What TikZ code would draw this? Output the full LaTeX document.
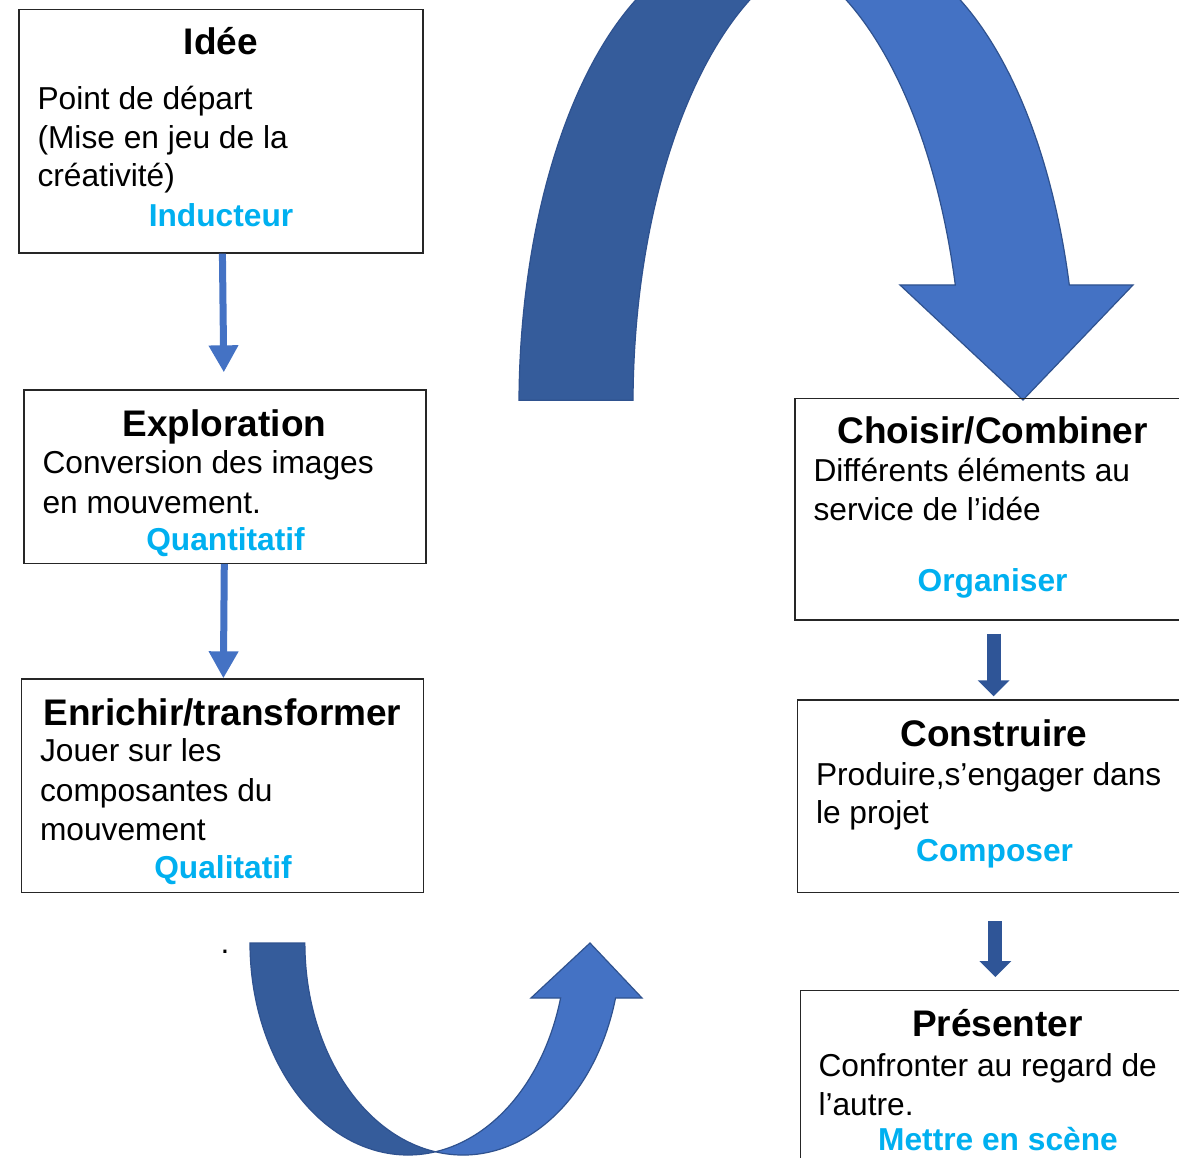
\documentclass[tikz,border=0pt]{standalone}
\usepackage{fontspec}
\setmainfont{Liberation Sans}
\usepackage{tikz}
\usetikzlibrary{arrows.meta}
\definecolor{bleu}{HTML}{4472C4}
\definecolor{bleufonce}{HTML}{2F5597}
\definecolor{ombre}{HTML}{355C9B}
\definecolor{bordure}{HTML}{2F528F}
\definecolor{ciel}{HTML}{00B0F0}
\begin{document}
\begin{tikzpicture}[x=1pt, y=-1pt,
  boite/.style={draw=black!85, line width=1.3pt, rectangle, inner sep=0pt},
  titre/.style={anchor=base, font=\fontsize{37}{44}\selectfont\bfseries},
  corps/.style={anchor=base west, font=\fontsize{31.7}{38}\selectfont},
  etiq/.style={anchor=base, text=ciel, font=\fontsize{31.7}{38}\selectfont\bfseries},
  fleche/.style={line width=7pt, draw=bleu, -{Triangle[width=28pt,length=27pt]}},
  bloc/.style={line width=14pt, draw=bleufonce, -{Triangle[width=31pt,length=16pt]}},
  contour/.style={draw=bordure, line width=1.2pt, line join=miter}]
\clip (0,0) rectangle (1179,1158);
\fill[white] (0,0) rectangle (1179,1158);
% grande fleche du haut
\fill[ombre, contour] (519,400.2) arc[start angle=180.6, end angle=284.88, x radius=222, y radius=460]
  arc[start angle=255.12, end angle=180.6, x radius=222, y radius=460] -- cycle;
\fill[bleu, contour] (798,-39.6) arc[start angle=255.12, end angle=344.88, x radius=222, y radius=460]
  -- (1133,285) -- (1023,400) -- (900,285) -- (955.3,285)
  arc[start angle=344.88, end angle=284.88, x radius=222, y radius=460] -- cycle;
% petite fleche du bas
\fill[ombre, contour] (250,943) arc[start angle=180, end angle=80, x radius=158, y radius=212]
  arc[start angle=100, end angle=180, x radius=158, y radius=212] -- cycle;
\fill[bleu, contour] (435.5,1151.8) arc[start angle=100, end angle=15.04, x radius=158, y radius=212]
  -- (642,998) -- (590,943) -- (531,998) -- (560.6,998)
  arc[start angle=15.04, end angle=80, x radius=158, y radius=212] -- cycle;
% colonne de gauche
\node[boite, minimum width=404, minimum height=243.5] (idee) at (221,131.25) {};
\node[titre] (ideeT) at (221,55) {Idée};
\node[corps] (ideeA) at (34,110) {Point de départ};
\node[corps] (ideeB) at (34,148.5) {(Mise en jeu de la};
\node[corps] (ideeC) at (34,187) {créativité)};
\node[etiq] (ideeE) at (221,227) {Inducteur};
\node[boite, minimum width=402, minimum height=173.3] (explo) at (225,476.65) {};
\node[titre] (exploT) at (224.5,437) {Exploration};
\node[corps] (exploA) at (39,474) {Conversion des images};
\node[corps] (exploB) at (39,513) {en mouvement.};
\node[etiq] (exploE) at (225.5,550) {Quantitatif};
\node[boite, minimum width=401.6, minimum height=213.7] (enrichir) at (222.5,785.85) {};
\node[titre] (enrichirT) at (222.5,725) {Enrichir/transformer};
\node[corps] (enrichirA) at (36.5,761.7) {Jouer sur les};
\node[corps] (enrichirB) at (36.5,801.7) {composantes du};
\node[corps] (enrichirC) at (36.5,840) {mouvement};
\node[etiq] (enrichirE) at (223,878) {Qualitatif};
\node[corps] (point) at (217,953) {.};
\draw[fleche, shorten >=17] (idee) -- (explo);
\draw[fleche] (explo) -- (enrichir);
% colonne de droite
\node[boite, minimum width=395, minimum height=221.7] (choisir) at (992.5,509.15) {};
\node[titre] (choisirT) at (992.5,444) {Choisir/Combiner};
\node[corps] (choisirA) at (810,481.7) {Différents éléments au};
\node[corps] (choisirB) at (810,520) {service de l’idée};
\node[etiq] (choisirE) at (992.6,591.7) {Organiser};
\node[boite, minimum width=392.7, minimum height=192.7] (construire) at (993.65,796.35) {};
\node[titre] (construireT) at (994,746.7) {Construire};
\node[corps] (construireA) at (812.5,785) {Produire,s’engager dans};
\node[corps] (construireB) at (812.5,823.3) {le projet};
\node[etiq] (construireE) at (994.6,861.7) {Composer};
\node[boite, minimum width=389.3, minimum height=184.3] (presenter) at (995.35,1082.85) {};
\node[titre] (presenterT) at (997.5,1036.7) {Présenter};
\node[corps] (presenterA) at (815,1076.7) {Confronter au regard de};
\node[corps] (presenterB) at (815,1115) {l’autre.};
\node[etiq] (presenterE) at (998,1150) {Mettre en scène};
\draw[bloc, shorten <=13, shorten >=3] (choisir.south -| construire.north) -- (construire.north);
\draw[bloc, shorten <=28, shorten >=13] (construire.south -| presenter.north) -- (presenter.north);
\end{tikzpicture}
\end{document}
